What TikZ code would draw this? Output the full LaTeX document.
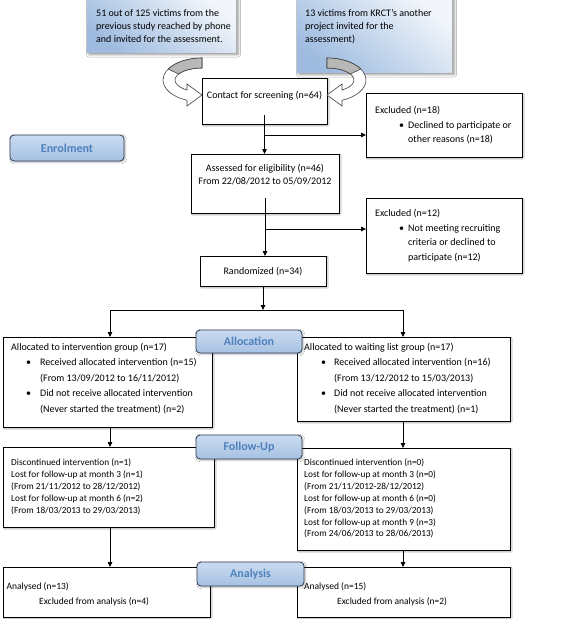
\documentclass[tikz,border=0pt]{standalone}
\usepackage{fontspec}
\setmainfont{Carlito}
\usetikzlibrary{arrows.meta,shadows.blur,calc}
\definecolor{lblfillA}{HTML}{CADBF0}
\definecolor{lblfillB}{HTML}{A6C1E3}
\definecolor{lbltext}{HTML}{4F81BD}
\definecolor{lbldraw}{HTML}{2E3E55}
\definecolor{topA}{HTML}{F2F6FB}
\definecolor{topB}{HTML}{9FBCE0}
\begin{document}
\begin{tikzpicture}[x=1pt,y=-1pt,
  box/.style={draw=black, line width=0.8pt, fill=white, inner sep=0pt, outer sep=0pt, anchor=north west,
    blur shadow={shadow xshift=1.2pt, shadow yshift=-1.2pt, shadow blur radius=1pt, shadow opacity=30}},
  txt/.style={anchor=base west, inner sep=0pt, font=\fontsize{10}{12}\selectfont},
  ctxt/.style={anchor=base, inner sep=0pt, font=\fontsize{10}{12}\selectfont},
  ftxt/.style={anchor=base west, inner sep=0pt, font=\fontsize{9.3}{11}\selectfont},
  atxt/.style={anchor=base west, inner sep=0pt, font=\fontsize{9.5}{11}\selectfont},
  lbl/.style={draw=lbldraw, line width=0.8pt, rounded corners=4pt, top color=lblfillA, bottom color=lblfillB,
    anchor=north west, inner sep=0pt, outer sep=0pt, text=lbltext, font=\fontsize{12}{14}\selectfont\bfseries,
    blur shadow={shadow xshift=1pt, shadow yshift=-1pt, shadow blur steps=4, shadow opacity=30}},
  topbox/.style={draw=none, top color=topA, bottom color=topB, shading angle=-40, anchor=north west,
    inner sep=0pt, outer sep=0pt,
    blur shadow={shadow xshift=2pt, shadow yshift=-2.5pt, shadow blur radius=2.5pt, shadow opacity=45}},
  arr/.style={line width=0.8pt, -{Triangle[length=5pt,width=4.5pt]}},
  ln/.style={line width=0.8pt},
  curv/.style={draw=black!75, line width=0.6pt, fill=white},
  curvback/.style={draw=black!75, line width=0.6pt, fill=black!28}
]
\useasboundingbox (0,0) rectangle (567,619);
\fill[white] (0,0) rectangle (567,619);

% source boxes
\node[topbox, minimum width=149pt, minimum height=56pt] (srcA) at (87,-4) {};
\node[txt] (srcA1) at (96,16.5) {51 out of 125 victims from the};
\node[txt] (srcA2) at (96,29.5) {previous study reached by phone};
\node[txt] (srcA3) at (96,42.5) {and invited for the assessment.};
\node[topbox, minimum width=155pt, minimum height=76pt] (srcB) at (297,-4) {};
\node[txt] (srcB1) at (305,16.5) {13 victims from KRCT’s another};
\node[txt] (srcB2) at (305,29.5) {project invited for the};
\node[txt] (srcB3) at (305,42.5) {assessment)};

% main boxes
\node[box, minimum width=125pt, minimum height=46pt] (contact) at (202,78) {};
\node[ctxt] (contactT) at (264.5,98) {Contact for screening (n=64)};

\node[box, minimum width=156pt, minimum height=64pt] (excl18) at (366,93) {};
\node[txt] (excl18a) at (375,113) {Excluded (n=18)};
\node[txt] (excl18b) at (399,128) {\textbullet};
\node[txt] (excl18c) at (408,128) {Declined to participate or};
\node[txt] (excl18d) at (408,142) {other reasons (n=18)};

\node[box, minimum width=148pt, minimum height=59pt] (assessed) at (191,154) {};
\node[ctxt] (assessedA) at (265,171) {Assessed for eligibility (n=46)};
\node[ctxt] (assessedB) at (265,184) {From 22/08/2012 to 05/09/2012};

\node[box, minimum width=156pt, minimum height=75pt] (excl12) at (366,198) {};
\node[txt] (excl12a) at (375,216.5) {Excluded (n=12)};
\node[txt] (excl12b) at (399,231) {\textbullet};
\node[txt] (excl12c) at (408,231) {Not meeting recruiting};
\node[txt] (excl12d) at (408,245.5) {criteria or declined to};
\node[txt] (excl12e) at (408,260) {participate (n=12)};

\node[box, minimum width=126pt, minimum height=30pt] (rand) at (200,256) {};
\node[ctxt] (randT) at (263,274) {Randomized (n=34)};

% allocation
\node[box, minimum width=209pt, minimum height=90pt] (allocL) at (3,337) {};
\node[txt] (allocL1) at (11,350) {Allocated to intervention group (n=17)};
\node[txt] (allocL2b) at (26,365.5) {\textbullet};
\node[txt] (allocL2) at (40,365.5) {Received allocated intervention (n=15)};
\node[txt] (allocL3) at (40,381) {(From 13/09/2012 to 16/11/2012)};
\node[txt] (allocL4b) at (26,396.5) {\textbullet};
\node[txt] (allocL4) at (40,396.5) {Did not receive allocated intervention};
\node[txt] (allocL5) at (40,412) {(Never started the treatment) (n=2)};

\node[box, minimum width=213pt, minimum height=84pt] (allocR) at (297,337) {};
\node[txt] (allocR1) at (304,350) {Allocated to waiting list group (n=17)};
\node[txt] (allocR2b) at (321,365.5) {\textbullet};
\node[txt] (allocR2) at (334,365.5) {Received allocated intervention (n=16)};
\node[txt] (allocR3) at (334,381) {(From 13/12/2012 to 15/03/2013)};
\node[txt] (allocR4b) at (321,396.5) {\textbullet};
\node[txt] (allocR4) at (334,396.5) {Did not receive allocated intervention};
\node[txt] (allocR5) at (334,412) {(Never started the treatment) (n=1)};

% follow-up
\node[box, minimum width=211pt, minimum height=80pt] (fuL) at (3,447) {};
\node[ftxt] (fuL1) at (11,465.5) {Discontinued intervention (n=1)};
\node[ftxt] (fuL2) at (11,477.4) {Lost for follow-up at month 3 (n=1)};
\node[ftxt] (fuL3) at (11,489.3) {(From 21/11/2012 to 28/12/2012)};
\node[ftxt] (fuL4) at (11,501.2) {Lost for follow-up at month 6 (n=2)};
\node[ftxt] (fuL5) at (11,513.1) {(From 18/03/2013 to 29/03/2013)};

\node[box, minimum width=213pt, minimum height=102pt] (fuR) at (297,448) {};
\node[ftxt] (fuR1) at (304,465.5) {Discontinued intervention (n=0)};
\node[ftxt] (fuR2) at (304,477.4) {Lost for follow-up at month 3 (n=0)};
\node[ftxt] (fuR3) at (304,489.3) {(From 21/11/2012-28/12/2012)};
\node[ftxt] (fuR4) at (304,501.2) {Lost for follow-up at month 6 (n=0)};
\node[ftxt] (fuR5) at (304,513.1) {(From 18/03/2013 to 29/03/2013)};
\node[ftxt] (fuR6) at (304,525) {Lost for follow-up at month 9 (n=3)};
\node[ftxt] (fuR7) at (304,536.9) {(From 24/06/2013 to 28/06/2013)};

% analysis
\node[box, minimum width=207pt, minimum height=50pt] (anL) at (3,567) {};
\node[atxt] (anL1) at (6.5,589) {Analysed (n=13)};
\node[atxt] (anL2) at (39,604.5) {Excluded from analysis (n=4)};
\node[box, minimum width=213pt, minimum height=50pt] (anR) at (297,567) {};
\node[atxt] (anR1) at (304,589) {Analysed (n=15)};
\node[atxt] (anR2) at (337,604.5) {Excluded from analysis (n=2)};

% stage labels
\node[lbl, minimum width=114pt, minimum height=26pt] (enrol) at (10,135) {Enrolment};
\node[lbl, minimum width=106pt, minimum height=23pt] (allocation) at (196,330) {Allocation};
\node[lbl, minimum width=106pt, minimum height=24pt] (followup) at (196,435) {Follow-Up};
\node[lbl, minimum width=107pt, minimum height=24pt] (analysis) at (197,562) {Analysis};

% curved arrows
\path[curv] (202,58) arc[start angle=90, end angle=247.38, x radius=39pt, y radius=22pt]
  -- (187,106) -- (202,95) -- (187,84) -- (187,90)
  arc[start angle=236.25, end angle=90, x radius=27pt, y radius=12pt] -- cycle;
\path[curvback] (202,58) arc[start angle=90, end angle=150, x radius=39pt, y radius=22pt]
  -- (178.6,74) arc[start angle=150, end angle=90, x radius=27pt, y radius=12pt] -- cycle;
\path[curv] (327,58) arc[start angle=90, end angle=-67.38, x radius=39pt, y radius=22pt]
  -- (342,106) -- (327,95) -- (342,84) -- (342,90)
  arc[start angle=-56.25, end angle=90, x radius=27pt, y radius=12pt] -- cycle;
\path[curvback] (327,58) arc[start angle=90, end angle=30, x radius=39pt, y radius=22pt]
  -- (350.4,74) arc[start angle=30, end angle=90, x radius=27pt, y radius=12pt] -- cycle;

% connectors
\coordinate (cs) at ($(contact.south)+(0,-9)$);
\coordinate (yb1) at (0,135);
\coordinate (b1) at (cs |- yb1);
\draw[arr] (cs) -- (cs |- assessed.north);
\draw[arr] (b1) -- (b1 -| excl18.west);
\coordinate (as) at ($(assessed.south)+(0,-15)$);
\coordinate (yb2) at (0,229);
\coordinate (b2) at (as |- yb2);
\draw[arr] (as) -- (as |- rand.north);
\draw[arr] (b2) -- (b2 -| excl12.west);
\coordinate (ysp) at (0,310);
\coordinate (spL) at (110,310);
\coordinate (spR) at (403,310);
\draw[arr] (rand.south) -- (rand.south |- ysp);
\draw[ln] (spL) -- (spR);
\draw[arr] (spL) -- (spL |- allocL.north);
\draw[arr] (spR) -- (spR |- allocR.north);
\draw[arr] (spL |- allocL.south) -- (spL |- fuL.north);
\draw[arr] (spR |- allocR.south) -- (spR |- fuR.north);
\draw[arr] (spL |- fuL.south) -- (spL |- anL.north);
\draw[arr] (spR |- fuR.south) -- (spR |- anR.north);
\end{tikzpicture}
\end{document}
